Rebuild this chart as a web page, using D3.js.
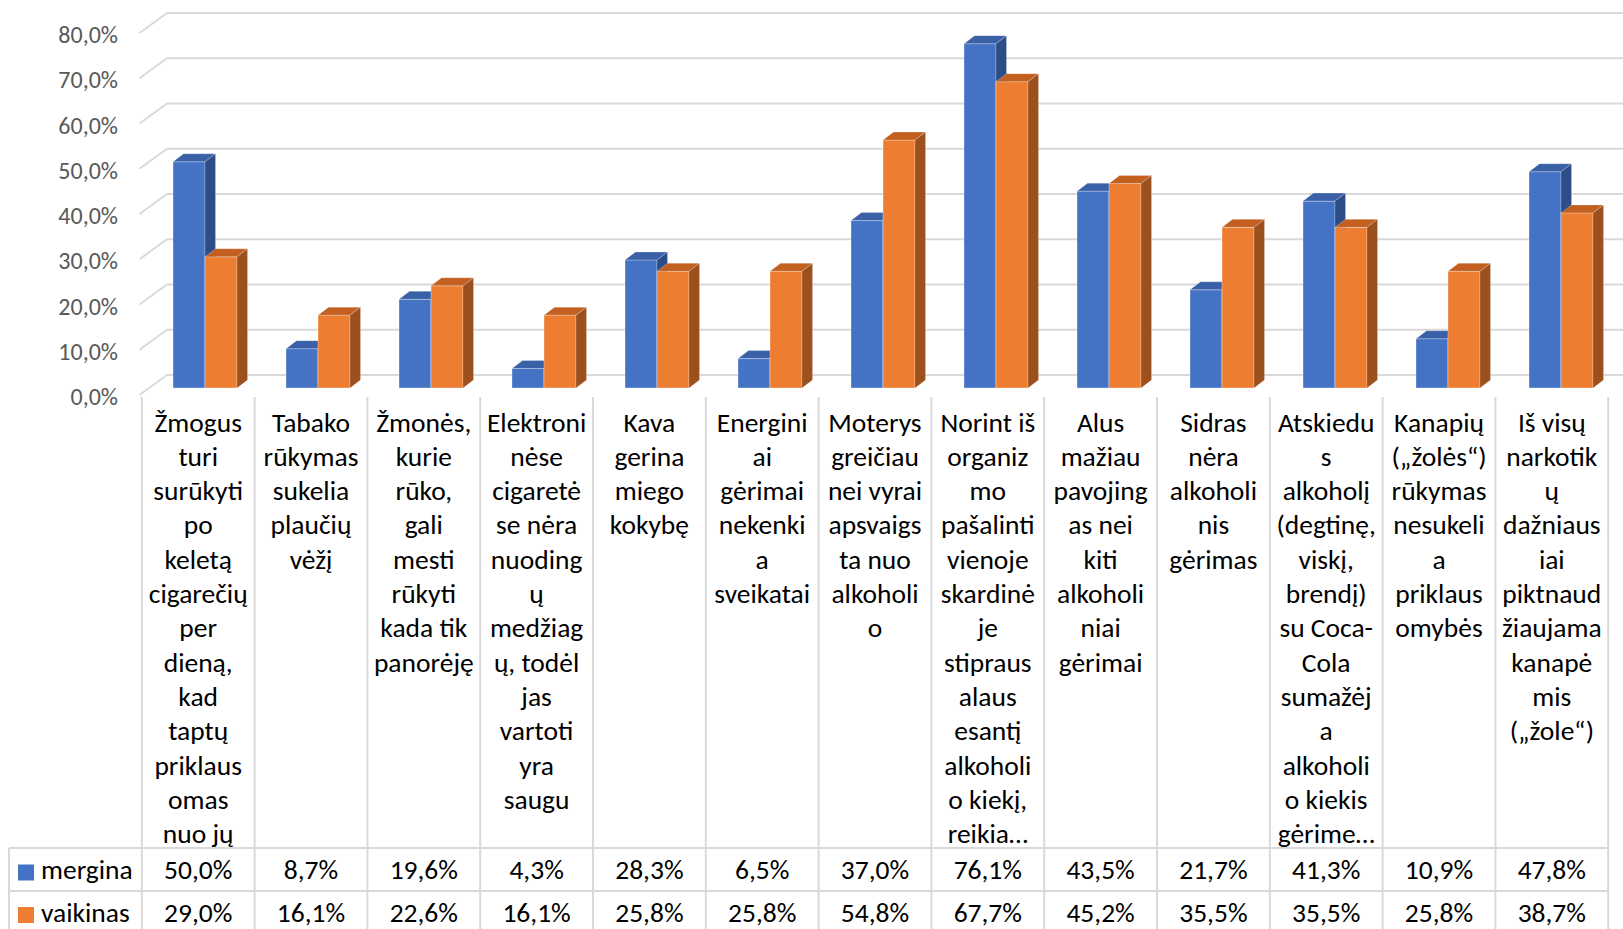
<!DOCTYPE html>
<html>
<head>
<meta charset="utf-8">
<script src="https://cdn.jsdelivr.net/npm/d3@7"></script>
<style>
  html, body { margin: 0; padding: 0; background: #fff; }
  svg { display: block; }
  text { font-family: Carlito, Calibri, Lato, sans-serif; }
</style>
</head>
<body>
<svg id="chart" width="1623" height="929"></svg>
<script>
// ---------------- DATA ----------------
const categories = [
  ["Žmogus","turi","surūkyti","po","keletą","cigarečių","per","dieną,","kad","taptų","priklaus","omas","nuo jų"],
  ["Tabako","rūkymas","sukelia","plaučių","vėžį"],
  ["Žmonės,","kurie","rūko,","gali","mesti","rūkyti","kada tik","panorėję"],
  ["Elektroni","nėse","cigaretė","se nėra","nuoding","ų","medžiag","ų, todėl","jas","vartoti","yra","saugu"],
  ["Kava","gerina","miego","kokybę"],
  ["Energini","ai","gėrimai","nekenki","a","sveikatai"],
  ["Moterys","greičiau","nei vyrai","apsvaigs","ta nuo","alkoholi","o"],
  ["Norint iš","organiz","mo","pašalinti","vienoje","skardinė","je","stipraus","alaus","esantį","alkoholi","o kiekį,","reikia…"],
  ["Alus","mažiau","pavojing","as nei","kiti","alkoholi","niai","gėrimai"],
  ["Sidras","nėra","alkoholi","nis","gėrimas"],
  ["Atskiedu","s","alkoholį","(degtinę,","viskį,","brendį)","su Coca-","Cola","sumažėj","a","alkoholi","o kiekis","gėrime…"],
  ["Kanapių","(„žolės“)","rūkymas","nesukeli","a","priklaus","omybės"],
  ["Iš visų","narkotik","ų","dažniaus","iai","piktnaud","žiaujama","kanapė","mis","(„žole“)"]
];
const seriesNames = ["mergina", "vaikinas"];
const mergina  = [50.0, 8.7, 19.6, 4.3, 28.3, 6.5, 37.0, 76.1, 43.5, 21.7, 41.3, 10.9, 47.8];
const vaikinas = [29.0, 16.1, 22.6, 16.1, 25.8, 25.8, 54.8, 67.7, 45.2, 35.5, 35.5, 25.8, 38.7];
const yTicks = [0, 10, 20, 30, 40, 50, 60, 70, 80];

// ---------------- STYLE / LAYOUT ----------------
const W = 1623, H = 929;
const colors = [
  { front: "#4472C4", top: "#3A60A8", side: "#2D4D86" },
  { front: "#ED7D31", top: "#C3601F", side: "#9C501E" }
];
const gridColor = "#d9d9d9";
const fontMain = 27.5, fontAxis = 24;

const svg = d3.select("#chart");
const fmt = d3.formatLocale({ decimal: ",", thousands: "\u00a0", grouping: [3], currency: ["", "€"] }).format(".1%");

const nCat = categories.length;
const colW = 112.8, tableX0 = 141.8;
const xTable = d3.scaleBand().domain(d3.range(nCat)).range([tableX0, tableX0 + nCat * colW]);
const xBar = d3.scaleBand().domain(d3.range(nCat)).range([148.5, 148.5 + nCat * 113]);
const y = d3.scaleLinear().domain([0, 80]).range([0, -362]);

const frontBase = 395, backBase = 375;
const wallX0 = 139.5, wallX1 = 167;
const barBase = 388, bdx = 10.5, bdy = -8;

// ---------------- WALLS / GRID ----------------
const grid = svg.append("g").attr("fill", "none").attr("stroke", gridColor).attr("stroke-width", 2);
grid.selectAll("line.back").data(yTicks).join("line")
  .attr("class", "back")
  .attr("x1", wallX1).attr("x2", W)
  .attr("y1", d => backBase + y(d)).attr("y2", d => backBase + y(d));
grid.selectAll("line.side").data(yTicks).join("line")
  .attr("class", "side")
  .attr("x1", wallX0).attr("y1", d => frontBase + y(d))
  .attr("x2", wallX1).attr("y2", d => backBase + y(d));

// ---------------- Y AXIS ----------------
const yAxisScale = d3.scaleLinear().domain([0, 80]).range([frontBase + 2, frontBase + 2 - 362]);
const yAxis = svg.append("g").attr("transform", "translate(118,0)")
  .call(d3.axisLeft(yAxisScale).tickValues(yTicks).tickSize(0).tickPadding(0).tickFormat(d => fmt(d / 100)));
yAxis.select(".domain").remove();
yAxis.selectAll("text").attr("fill", "#595959").style("font-size", fontAxis + "px")
  .style("font-family", "Carlito, Calibri, Lato, sans-serif");

// ---------------- BARS ----------------
const bw = xBar.bandwidth() * 0.2832;
const series = [mergina, vaikinas];
const bars = svg.append("g");
for (let i = 0; i < nCat; i++) {
  const cx = xBar(i) + xBar.bandwidth() / 2;
  series.forEach((vals, s) => {
    const v = vals[i];
    const x = cx - bw + s * bw;
    const top = barBase + y(v);
    const g = bars.append("g");
    const c = colors[s];
    g.append("rect").attr("x", x).attr("y", top).attr("width", bw).attr("height", barBase - top)
      .attr("fill", c.front).attr("stroke", "rgba(255,255,255,0.35)").attr("stroke-width", 1);
    g.append("polygon")
      .attr("points", [[x, top], [x + bdx, top + bdy], [x + bw + bdx, top + bdy], [x + bw, top]].map(p => p.join(",")).join(" "))
      .attr("fill", c.top).attr("stroke", "rgba(255,255,255,0.25)").attr("stroke-width", 1);
    g.append("polygon")
      .attr("points", [[x + bw, top], [x + bw + bdx, top + bdy], [x + bw + bdx, barBase + bdy], [x + bw, barBase]].map(p => p.join(",")).join(" "))
      .attr("fill", c.side).attr("stroke", "rgba(255,255,255,0.2)").attr("stroke-width", 1);
  });
}

// ---------------- TABLE ----------------
const table = svg.append("g").attr("stroke", gridColor).attr("stroke-width", 2);
const tableRight = tableX0 + nCat * colW;
table.selectAll("line.v").data(d3.range(nCat + 1)).join("line")
  .attr("class", "v")
  .attr("x1", k => tableX0 + k * colW).attr("x2", k => tableX0 + k * colW)
  .attr("y1", 397).attr("y2", H);
const rowTop = [848, 891];
table.selectAll("line.h").data(rowTop).join("line")
  .attr("class", "h")
  .attr("x1", 9).attr("x2", tableRight)
  .attr("y1", d => d).attr("y2", d => d);
table.append("line").attr("x1", 9).attr("x2", 9).attr("y1", 848).attr("y2", H);

// Category labels
const labels = svg.append("g").attr("fill", "#000").style("font-size", fontMain + "px").attr("text-anchor", "middle");
categories.forEach((lines, i) => {
  const t = labels.append("text").attr("x", xTable(i) + xTable.bandwidth() / 2);
  lines.forEach((ln, j) => {
    t.append("tspan").attr("x", xTable(i) + xTable.bandwidth() / 2)
      .attr("y", 422 + j * 34.3).attr("dominant-baseline", "central").text(ln);
  });
});

// Values rows
const rowCenters = [869.5, 912];
series.forEach((vals, s) => {
  svg.append("g").selectAll("text").data(vals).join("text")
    .attr("x", (d, i) => xTable(i) + xTable.bandwidth() / 2)
    .attr("y", rowCenters[s])
    .attr("dominant-baseline", "central")
    .attr("text-anchor", "middle")
    .attr("fill", "#000")
    .style("font-size", fontMain + "px")
    .text(d => fmt(d / 100));
  svg.append("rect").attr("x", 18).attr("y", rowCenters[s] - 5).attr("width", 16).attr("height", 16)
    .attr("fill", colors[s].front);
  svg.append("text").attr("x", 41).attr("y", rowCenters[s])
    .attr("dominant-baseline", "central").attr("fill", "#000")
    .style("font-size", fontMain + "px").text(seriesNames[s]);
});
</script>
</body>
</html>
